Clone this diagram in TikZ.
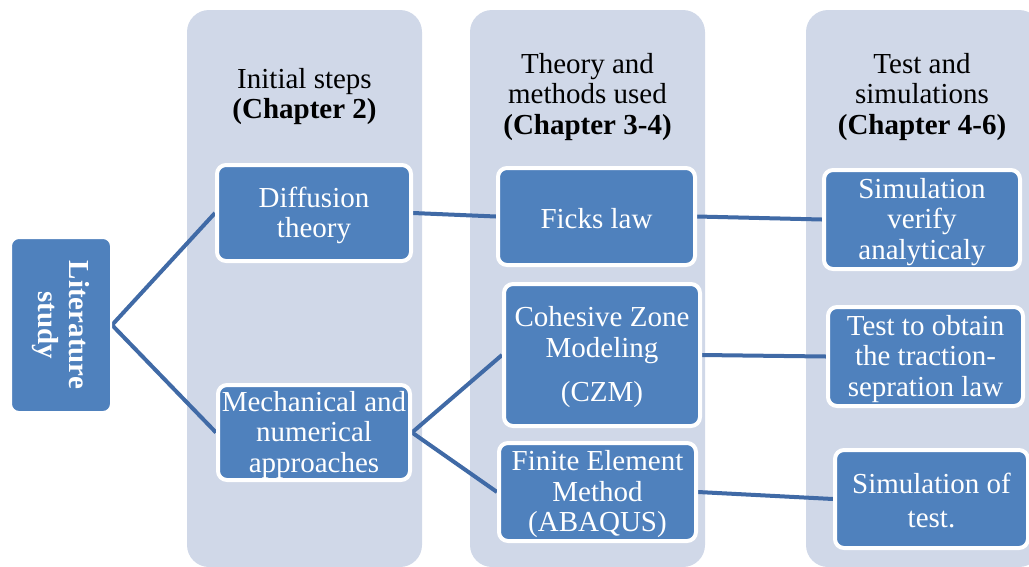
\documentclass[tikz,border=0pt]{standalone}
\usepackage{fontspec}
\setmainfont{Liberation Serif}
\definecolor{colbg}{RGB}{208,216,232}
\definecolor{boxblue}{RGB}{79,129,189}
\definecolor{linkblue}{RGB}{64,106,166}
\pgfdeclarelayer{cols}
\pgfdeclarelayer{links}
\pgfsetlayers{cols,links,main}
\tikzset{
  column/.style={fill=colbg, rounded corners=22pt},
  stepbox/.style={draw=white, line width=4pt, fill=boxblue, rounded corners=9pt,
    inner sep=0pt},
  boxtext/.style={text=white, align=center, inner sep=0pt, yshift=-2.5pt,
    font=\fontsize{29}{30.5}\selectfont},
  header/.style={align=center, inner sep=0pt, font=\fontsize{29}{30.5}\selectfont},
  link/.style={draw=linkblue, line width=4pt},
}
\begin{document}
\begin{tikzpicture}[x=1pt,y=-1pt]
\useasboundingbox (0,0) rectangle (1029,566);
\clip (0,0) rectangle (1029,566);
\begin{pgfonlayer}{cols}
  \fill[column] (187,10) rectangle (422,567);
  \fill[column] (470,10) rectangle (705,567);
  \fill[column] (806,10) rectangle (1041,567);
\end{pgfonlayer}
% headers
\node[header] (h1) at (304.5,96.5) {Initial steps\\\textbf{(Chapter 2)}};
\node[header] (h2) at (587.5,97) {Theory and\\methods used\\\textbf{(Chapter 3-4)}};
\node[header] (h3) at (922,97) {Test and\\simulations\\\textbf{(Chapter 4-6)}};
% boxes
\node[stepbox, line width=2pt, rounded corners=8pt, rotate=-90, minimum width=174pt, minimum height=100pt,
  text=white, align=center, font=\fontsize{29}{30.5}\selectfont\bfseries] (lit) at (61,325) {Literature\\study};
\node[stepbox, minimum width=194pt, minimum height=96pt,
  label={[boxtext]center:{Diffusion\\theory}}] (diff) at (314,213) {};
\node[stepbox, minimum width=192pt, minimum height=95pt,
  label={[boxtext]center:{Mechanical and\\numerical\\approaches}}] (mech) at (314,432.5) {};
\node[stepbox, minimum width=197pt, minimum height=97pt,
  label={[boxtext]center:{Ficks law}}] (ficks) at (596.5,216.5) {};
\node[stepbox, minimum width=196pt, minimum height=142pt,
  label={[boxtext]center:{Cohesive Zone\\Modeling\\[14pt](CZM)}}] (czm) at (602,355) {};
\node[stepbox, minimum width=197pt, minimum height=98pt,
  label={[boxtext]center:{Finite Element\\Method\\(ABAQUS)}}] (fem) at (597.5,492) {};
\node[stepbox, minimum width=196pt, minimum height=99pt,
  label={[boxtext]center:{Simulation\\verify\\analyticaly}}] (simv) at (922,219.5) {};
\node[stepbox, minimum width=195pt, minimum height=99pt,
  label={[boxtext]center:{Test to obtain\\the traction-\\sepration law}}] (test) at (925.5,356.5) {};
\node[stepbox, minimum width=193pt, minimum height=98pt,
  label={[boxtext, yshift=1pt]center:{Simulation of\\[4pt]test.}}] (simt) at (931.5,499) {};
% connectors
\begin{pgfonlayer}{links}
  \draw[link] (lit.north) -- (diff.west);
  \draw[link] (lit.north) -- (mech.west);
  \draw[link] (diff.east) -- (ficks.west);
  \draw[link] (mech.east) -- (czm.west);
  \draw[link] (mech.east) -- (fem.west);
  \draw[link] (ficks.east) -- (simv.west);
  \draw[link] (czm.east) -- (test.west);
  \draw[link] (fem.east) -- (simt.west);
\end{pgfonlayer}
\end{tikzpicture}
\end{document}
